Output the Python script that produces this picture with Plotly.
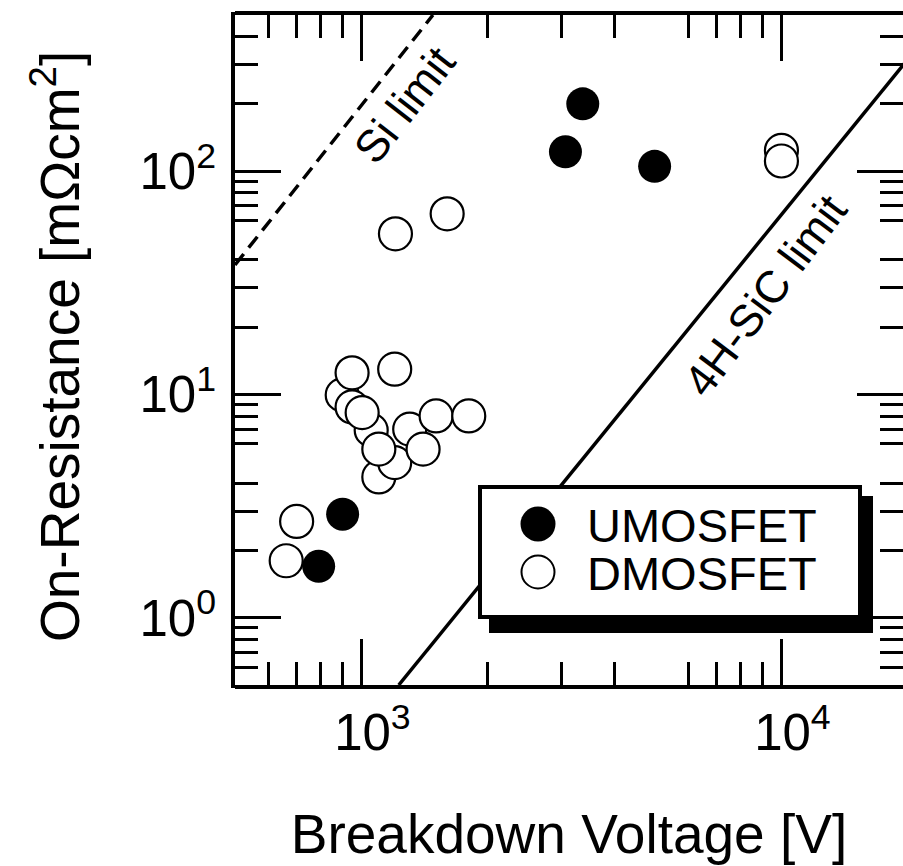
import numpy as np
import plotly.graph_objects as go

# Breakdown voltage [V] vs. specific on-resistance [mOhm cm^2]
umos_v = [3365, 3060, 4990, 902, 791]
umos_r = [200, 122, 105, 2.91, 1.70]

dmos_v = [900, 950, 950, 1055, 1004, 1100, 1200, 1100, 1303, 1402, 1506, 1801,
          1200, 701, 662, 1205, 1600, 10000, 10000]
dmos_r = [9.95, 12.5, 8.79, 6.92, 8.29, 4.27, 4.95, 5.69, 6.99, 5.69, 8.01, 8.01,
          12.97, 2.70, 1.80, 52.4, 64.4, 123.8, 111]

# Unipolar material limits
si_limit_v = [500, 1480]
si_limit_r = [38, 500]
sic_limit_v = [1227, 20000]
sic_limit_r = [0.5, 317]

# Axis ticks: labelled decades, long ticks at 5x, short minor ticks
x_decades = [1000, 10000]
x_decade_text = ["10<sup>3</sup>", "10<sup>4</sup>"]
x_fives = [500, 5000]
x_minor = [600, 700, 800, 900, 2000, 3000, 4000, 6000, 7000, 8000, 9000]
y_decades = [1, 10, 100]
y_decade_text = ["10<sup>0</sup>", "10<sup>1</sup>", "10<sup>2</sup>"]
y_fives = [0.5, 5, 50, 500]
y_minor = [0.6, 0.7, 0.8, 0.9, 2, 3, 4, 6, 7, 8, 9, 20, 30, 40, 60, 70, 80, 90,
           200, 300, 400]

FONT = "Liberation Sans, Arial, Helvetica, sans-serif"
W, H = 903, 866
ML, MT, MB, MR = 235, 15, 181, 0
PW, PH = W - ML - MR, H - MT - MB
X_DECADE = 420  # px per decade on the x axis

X_RANGE = [np.log10(500), np.log10(500) + PW / X_DECADE]
Y_RANGE = [np.log10(0.5), np.log10(500)]


def pxx(px):
    return (px - ML) / PW


def pxy(py):
    return (H - MB - py) / PH


fig = go.Figure()

fig.add_trace(go.Scatter(
    x=si_limit_v, y=si_limit_r, mode="lines",
    line=dict(color="black", width=3.5, dash="14px,8px"),
    showlegend=False, hoverinfo="skip"))
fig.add_trace(go.Scatter(
    x=sic_limit_v, y=sic_limit_r, mode="lines",
    line=dict(color="black", width=3.5),
    showlegend=False, hoverinfo="skip"))

fig.add_trace(go.Scatter(
    x=dmos_v, y=dmos_r, mode="markers", name="DMOSFET",
    marker=dict(size=33, color="white", line=dict(color="black", width=2.2)),
    showlegend=False))
fig.add_trace(go.Scatter(
    x=umos_v, y=umos_r, mode="markers", name="UMOSFET",
    marker=dict(size=33, color="black", line=dict(color="black", width=0)),
    showlegend=False))

tick_font = dict(family=FONT, size=51, color="black")
title_font = dict(family=FONT, size=55, color="black")
minor_style = dict(tickmode="array", ticklen=23, tickwidth=3, ticks="inside",
                   tickcolor="black", showgrid=False)

# bottom axis: spine, decade ticks + minor ticks, mirrored to the top
fig.update_layout(xaxis=dict(
    type="log", range=X_RANGE, ticks="inside", tickwidth=3, tickcolor="black",
    ticklen=46, tickmode="array", tickvals=x_decades, ticktext=x_decade_text,
    minor=dict(tickvals=x_minor, **minor_style),
    showline=True, linewidth=4, linecolor="black", mirror="ticks",
    showgrid=False, zeroline=False, tickfont=tick_font, ticklabelshift=11,
    title=dict(text="Breakdown Voltage [V]", font=title_font, standoff=55),
))
# long ticks at 5x on bottom and top
fig.update_layout(xaxis2=dict(
    type="log", range=X_RANGE, overlaying="x", anchor="y", side="bottom",
    ticks="inside", tickwidth=3, tickcolor="black", ticklen=46,
    tickmode="array", tickvals=x_fives, showticklabels=False,
    showline=False, mirror="ticks", showgrid=False, zeroline=False,
))
# left axis ticks (spine drawn as a shape), mirrored to the right edge
fig.update_layout(yaxis=dict(
    type="log", range=Y_RANGE, ticks="inside", tickwidth=3, tickcolor="black",
    ticklen=46, tickmode="array", tickvals=y_decades, ticktext=y_decade_text,
    minor=dict(tickvals=y_minor, **minor_style),
    showline=False, mirror="ticks",
    showgrid=False, zeroline=False, tickfont=tick_font, ticklabelstandoff=18,
))
# long ticks at 5x on left and right
fig.update_layout(yaxis2=dict(
    type="log", range=Y_RANGE, overlaying="y", anchor="x", side="left",
    ticks="inside", tickwidth=3, tickcolor="black", ticklen=46,
    tickmode="array", tickvals=y_fives, showticklabels=False,
    showline=False, mirror="ticks", showgrid=False, zeroline=False,
))

shapes = [
    # left spine
    dict(type="line", xref="paper", yref="paper", layer="above",
         x0=pxx(233), x1=pxx(233), y0=pxy(688), y1=pxy(12),
         line=dict(color="black", width=4)),
    # legend panel with drop shadow
    dict(type="rect", xref="paper", yref="paper", layer="above",
         x0=pxx(489), x1=pxx(873), y0=pxy(633), y1=pxy(496),
         fillcolor="black", line=dict(width=0)),
    dict(type="rect", xref="paper", yref="paper", layer="above",
         x0=pxx(480), x1=pxx(860), y0=pxy(617), y1=pxy(487),
         fillcolor="white", line=dict(color="black", width=4)),
    dict(type="circle", xref="paper", yref="paper", layer="above",
         xsizemode="pixel", ysizemode="pixel",
         xanchor=pxx(538), yanchor=pxy(524), x0=-17.5, x1=17.5, y0=-17.5, y1=17.5,
         fillcolor="black", line=dict(color="black", width=0)),
    dict(type="circle", xref="paper", yref="paper", layer="above",
         xsizemode="pixel", ysizemode="pixel",
         xanchor=pxx(538), yanchor=pxy(572), x0=-16.5, x1=16.5, y0=-16.5, y1=16.5,
         fillcolor="white", line=dict(color="black", width=2)),
]

label_font = dict(family=FONT, size=47, color="black")
limit_font = dict(family=FONT, size=45, color="black")
annotations = [
    dict(text="On-Resistance [mΩcm<sup>2</sup>]", xref="paper", yref="paper",
         x=pxx(56), y=pxy(347), xanchor="center", yanchor="middle",
         showarrow=False, textangle=-90, font=title_font),
    dict(text="UMOSFET", xref="paper", yref="paper", x=pxx(585), y=pxy(525),
         xanchor="left", yanchor="middle", showarrow=False, font=label_font),
    dict(text="DMOSFET", xref="paper", yref="paper", x=pxx(585), y=pxy(573),
         xanchor="left", yanchor="middle", showarrow=False, font=label_font),
    dict(text="Si limit", xref="paper", yref="paper", x=pxx(404), y=pxy(105),
         xanchor="center", yanchor="middle", showarrow=False, textangle=-52,
         font=limit_font),
    dict(text="4H-SiC limit", xref="paper", yref="paper", x=pxx(765), y=pxy(295),
         xanchor="center", yanchor="middle", showarrow=False, textangle=-53,
         font=limit_font),
]

fig.update_layout(
    width=W, height=H,
    margin=dict(l=ML, r=MR, t=MT, b=MB, pad=0),
    plot_bgcolor="white", paper_bgcolor="white",
    shapes=shapes, annotations=annotations,
    showlegend=False,
)

fig.write_html("out.html")
